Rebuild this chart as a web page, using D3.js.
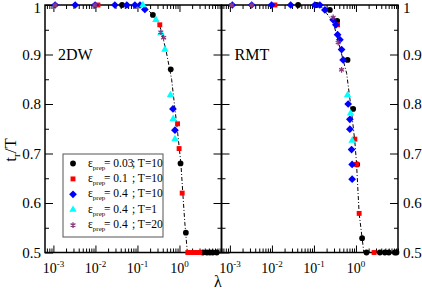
<!DOCTYPE html>
<html>
<head>
<meta charset="utf-8">
<script src="https://cdn.jsdelivr.net/npm/d3@7"></script>
<style>
  body { margin: 0; background: #fff; }
  svg { display: block; }
  svg text { font-family: "Liberation Serif", "Times New Roman", "DejaVu Serif", serif !important; fill: #000; }
</style>
</head>
<body>
<div id="chart"></div>
<script>
// values (lambda, t_r/T)

// 2DW panel
let dw_black_lam = [0.043, 0.233, 0.62, 1.06, 1.42, 3.6, 4.5, 5.3, 6.2, 7.7];
let dw_black_t   = [1, 0.98, 0.87, 0.68, 0.54, 0.5, 0.5, 0.5, 0.5, 0.5];
let dw_red_lam   = [0.0115, 0.34, 0.90, 0.98, 1.16, 1.58, 1.86, 2.2, 2.59, 3.05];
let dw_red_t     = [1, 0.96, 0.76, 0.71, 0.62, 0.5, 0.5, 0.5, 0.5, 0.5];
let dw_blue_lam  = [0.0011, 0.0033, 0.0098, 0.029, 0.056, 0.087, 0.115, 0.15, 0.70, 0.78];
let dw_blue_t    = [1, 1, 1, 1, 1, 1, 1, 0.991, 0.79, 0.747];
let dw_cyan_lam  = [0.135, 0.275, 0.36, 0.45, 0.61, 0.71, 0.78];
let dw_cyan_t    = [1, 0.97, 0.943, 0.91, 0.818, 0.77, 0.729];
let dw_star_lam  = [0.0011, 0.0098, 0.36, 0.42];
let dw_star_t    = [1, 1, 0.945, 0.934];
let dw_curve_lam = [0.135, 0.233, 0.34, 0.474, 0.65, 0.78, 0.91, 1.08, 1.2, 1.34, 1.54];
let dw_curve_t   = [1, 0.98, 0.958, 0.91, 0.85, 0.79, 0.74, 0.68, 0.62, 0.56, 0.5];

// RMT panel
let rmt_black_lam = [0.042, 0.1155, 0.239, 0.357, 0.63, 0.857, 1.07, 1.40, 1.78, 3.7, 4.86, 6.04, 8.4, 9.2];
let rmt_black_t   = [1, 1, 0.99, 0.968, 0.889, 0.79, 0.678, 0.529, 0.5, 0.5, 0.5, 0.5, 0.5, 0.5];
let rmt_red_lam   = [0.0118, 0.365, 0.94, 1.03, 1.19, 2.7];
let rmt_red_t     = [1, 0.96, 0.729, 0.678, 0.579, 0.5];
let rmt_blue_lam  = [0.00114, 0.0033, 0.0098, 0.0279, 0.105, 0.138, 0.182, 0.286, 0.332, 0.365, 0.414, 0.454, 0.495, 0.652, 0.715, 0.715, 0.785, 0.81, 0.81];
let rmt_blue_t    = [1, 1, 1, 1, 1, 1, 0.99, 0.97, 0.96, 0.94, 0.93, 0.91, 0.889, 0.80, 0.769, 0.749, 0.708, 0.678, 0.648];
let rmt_cyan_lam  = [0.63, 0.743, 0.81];
let rmt_cyan_t    = [0.818, 0.781, 0.726];
let rmt_star_lam  = [0.0011, 0.0033, 0.286, 0.377, 0.454];
let rmt_star_t    = [1, 1, 0.975, 0.924, 0.869];
let rmt_curve_lam = [0.138, 0.2, 0.286, 0.414, 0.6, 0.785, 0.94, 1.03, 1.19, 1.40, 1.54];
let rmt_curve_t   = [1, 0.983, 0.966, 0.914, 0.862, 0.784, 0.724, 0.68, 0.579, 0.529, 0.5];

// legend
let legendEps = ["0.03", "0.1", "0.4", "0.4", "0.4"];
let legendT   = ["10", "10", "10", "1", "20"];

let xMajor = [1e-3, 1e-2, 1e-1, 1];
let yMajor = [0.5, 0.6, 0.7, 0.8, 0.9, 1];
let yMinor = [0.55, 0.65, 0.75, 0.85, 0.95];

let width = 422, height = 291;
let yTop = 5, yBottom = 252.5;
let serif = '"Liberation Serif", "Times New Roman", "DejaVu Serif", serif';

let svg = d3.select("#chart").append("svg")
  .attr("width", width)
  .attr("height", height)
  .attr("font-family", serif);

// series styles (grace-like markers)
let diamond = { draw: (ctx, size) => { let r = Math.sqrt(size / 2); ctx.moveTo(0, -r); ctx.lineTo(r, 0); ctx.lineTo(0, r); ctx.lineTo(-r, 0); ctx.closePath(); } };
let series = [
  { key: "black", color: "#000000", type: d3.symbolCircle, size: 26, stroke: false },
  { key: "red",   color: "#ff0000", type: d3.symbolSquare, size: 24, stroke: false },
  { key: "blue",  color: "#0000ff", type: diamond,         size: 30, stroke: false },
  { key: "cyan",  color: "#00ffff", type: d3.symbolTriangle, size: 24, stroke: false },
  { key: "star",  color: "#8b3a80", type: d3.symbolAsterisk, size: 22, stroke: true }
];

let panels = [
  { name: "2DW", x0: 45, x1: 221.5, labelsLeft: true,
    data: { black: [dw_black_lam, dw_black_t], red: [dw_red_lam, dw_red_t], blue: [dw_blue_lam, dw_blue_t],
            cyan: [dw_cyan_lam, dw_cyan_t], star: [dw_star_lam, dw_star_t] },
    curve: [dw_curve_lam, dw_curve_t] },
  { name: "RMT", x0: 221.5, x1: 398, labelsLeft: false,
    data: { black: [rmt_black_lam, rmt_black_t], red: [rmt_red_lam, rmt_red_t], blue: [rmt_blue_lam, rmt_blue_t],
            cyan: [rmt_cyan_lam, rmt_cyan_t], star: [rmt_star_lam, rmt_star_t] },
    curve: [rmt_curve_lam, rmt_curve_t] }
];

let y = d3.scaleLinear().domain([0.5, 1]).range([yBottom, yTop]);
let yFmt = d => d === 1 ? "1" : d.toFixed(1);

panels.forEach(function(p) {
  let x = d3.scaleLog().domain([Math.pow(10, -3.2), 10]).range([p.x0, p.x1]);
  let xMinor = x.ticks().filter(t => !xMajor.some(m => Math.abs(m - t) < m * 1e-6));

  let g = svg.append("g");

  // frame
  g.append("rect")
    .attr("x", p.x0).attr("y", yTop)
    .attr("width", p.x1 - p.x0).attr("height", yBottom - yTop)
    .attr("fill", "none").attr("stroke", "#000").attr("stroke-width", 1.5);

  // ticks, all pointing inward
  let addAxis = function(axis, tx, ty) {
    let a = g.append("g").attr("transform", `translate(${tx},${ty})`).call(axis);
    a.attr("font-family", serif).attr("font-size", 15);
    a.select(".domain").remove();
    a.selectAll("line").attr("stroke", "#000").attr("stroke-width", 1);
    // keep the top label "1" inside the picture
    a.selectAll("text").filter(d => d === 1).attr("dy", "0.5em");
    return a;
  };
  addAxis(d3.axisBottom(x).tickValues(xMajor).tickSize(-7).tickFormat(""), 0, yBottom);
  addAxis(d3.axisBottom(x).tickValues(xMinor).tickSize(-4).tickFormat(""), 0, yBottom);
  addAxis(d3.axisTop(x).tickValues(xMajor).tickSize(-7).tickFormat(""), 0, yTop);
  addAxis(d3.axisTop(x).tickValues(xMinor).tickSize(-4).tickFormat(""), 0, yTop);

  addAxis(d3.axisLeft(y).tickValues(yMajor).tickSize(-8).tickPadding(4)
    .tickFormat(p.labelsLeft ? yFmt : ""), p.x0, 0);
  addAxis(d3.axisLeft(y).tickValues(yMinor).tickSize(-4).tickFormat(""), p.x0, 0);
  addAxis(d3.axisRight(y).tickValues(yMajor).tickSize(-8).tickPadding(5)
    .tickFormat(p.labelsLeft ? "" : yFmt), p.x1, 0);
  addAxis(d3.axisRight(y).tickValues(yMinor).tickSize(-4).tickFormat(""), p.x1, 0);

  // x tick labels 10^k
  g.selectAll(".xlab")
    .data(xMajor)
    .enter()
    .append("text")
      .attr("x", d => x(d))
      .attr("y", 273)
      .attr("text-anchor", "middle")
      .style("font-size", "14px")
      .each(function(d) {
        let t = d3.select(this);
        t.append("tspan").text("10");
        t.append("tspan").attr("dy", -6).style("font-size", "9px").text(Math.round(Math.log10(d)));
      });

  // dash-dot guide curve
  let line = d3.line().x(d => x(d[0])).y(d => y(d[1]));
  g.append("path")
    .datum(d3.zip(p.curve[0], p.curve[1]))
    .attr("d", line)
    .attr("fill", "none")
    .attr("stroke", "#000")
    .attr("stroke-width", 1)
    .attr("stroke-dasharray", "4,2,1,2");

  // markers
  series.forEach(function(s) {
    let pts = d3.zip(p.data[s.key][0], p.data[s.key][1]);
    g.selectAll(".m-" + s.key)
      .data(pts)
      .enter()
      .append("path")
        .attr("transform", d => `translate(${x(d[0])},${y(d[1])})`)
        .attr("d", d3.symbol().type(s.type).size(s.size))
        .attr("fill", s.stroke ? "none" : s.color)
        .attr("stroke", s.stroke ? s.color : "none")
        .attr("stroke-width", 1.3);
  });

  // panel name
  g.append("text")
    .attr("x", p.x0 + 13)
    .attr("y", 60)
    .style("font-size", "16px")
    .text(p.name);
});

// legend
let lg = svg.append("g");
lg.append("rect")
  .attr("x", 63).attr("y", 154).attr("width", 100).attr("height", 83)
  .attr("fill", "#fff").attr("stroke", "#555").attr("stroke-width", 1);

series.forEach(function(s, i) {
  let cy = 163.5 + i * 15.4;
  lg.append("path")
    .attr("transform", `translate(73,${cy})`)
    .attr("d", d3.symbol().type(s.type).size(s.size))
    .attr("fill", s.stroke ? "none" : s.color)
    .attr("stroke", s.stroke ? s.color : "none")
    .attr("stroke-width", 1.3);
  let t = lg.append("text").attr("y", cy + 3).style("font-size", "11.5px");
  t.append("tspan").attr("x", 88).text("ε");
  t.append("tspan").attr("dy", 3).style("font-size", "7px").text("prep");
  t.append("tspan").attr("x", 104).attr("dy", -3).text("= " + legendEps[i]);
  t.append("tspan").attr("x", 132).text("; T=" + legendT[i]);
});

// axis titles
svg.append("text")
  .attr("x", 218)
  .attr("y", 287)
  .attr("text-anchor", "middle")
  .style("font-size", "16px")
  .text("λ");

let yt = svg.append("text")
  .attr("transform", "translate(16,150) rotate(-90)")
  .attr("text-anchor", "middle")
  .style("font-size", "17px");
yt.append("tspan").text("t");
yt.append("tspan").attr("dy", 4).style("font-size", "11px").text("r");
yt.append("tspan").attr("dy", -4).text("/T");
</script>
</body>
</html>
